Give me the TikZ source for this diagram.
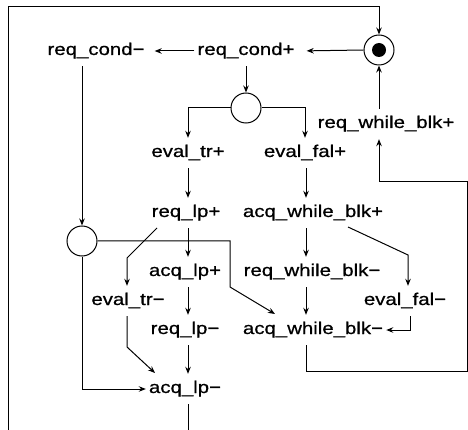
\documentclass[tikz,border=0pt]{standalone}
\usepackage{fontspec}
\setmainfont{Liberation Sans}[FakeStretch=1.2,FakeBold=0.8]
\usetikzlibrary{arrows.meta,calc}
\begin{document}
\begin{tikzpicture}[x=1pt,y=-1pt,
  lab/.style={font=\fontsize{17}{20}\selectfont, inner xsep=3pt, inner ysep=7pt,
              text height=12pt, text depth=4pt},
  place/.style={circle, draw, line width=1pt, minimum size=30pt, inner sep=0pt},
  arr/.style={-{Stealth[length=7pt,width=5.5pt]}, line width=1pt},
  ln/.style={line width=1pt}]
\useasboundingbox (0,0) rectangle (468,430);
% columns
\coordinate (colA) at (188,0);
\coordinate (colB) at (306,0);
% nodes
\node[lab] (reqcm) at (96,51) {req\_cond−};
\node[lab] (reqcp) at (246,51) {req\_cond+};
\node[place] (tok) at (379,50) {};
\fill (tok.center) circle (7);
\node[place] (p1) at (246,108) {};
\node[lab] (reqwbp) at (386,124) {req\_while\_blk+};
\node[lab] (evaltrp) at (188,153) {eval\_tr+};
\node[lab] (evalfalp) at (305,153) {eval\_fal+};
\node[lab] (reqlpp) at (186,213) {req\_lp+};
\node[lab] (acqwbp) at (313,213) {acq\_while\_blk+};
\node[place] (p2) at (82,241) {};
\node[lab] (acqlpp) at (185,272) {acq\_lp+};
\node[lab] (reqwbm) at (312,272) {req\_while\_blk−};
\node[lab] (evaltrm) at (128,301) {eval\_tr−};
\node[lab] (evalfalm) at (405,301) {eval\_fal−};
\node[lab] (reqlpm) at (185,330) {req\_lp−};
\node[lab] (acqwbm) at (313,330) {acq\_while\_blk−};
\node[lab] (acqlpm) at (185,389) {acq\_lp−};
% helper coordinates
\coordinate (tl) at (8,7);
\coordinate (bl) at (8,430);
\coordinate (rb) at (467,371);
\coordinate (rt) at (467,182);
\coordinate (k1) at (230,287);
\coordinate (k2) at (408,255);
\coordinate (k3) at (127,258);
\coordinate (k4) at (127,347);
% connectors
\draw[arr, shorten >=9pt] (tok.west) -- (reqcp.east);
\draw[arr, shorten >=7pt] (reqcp.west) -- (reqcm.east);
\draw[arr] (reqcp.south) -- (p1.north);
\draw[arr] (p1.west) -| (evaltrp.north);
\draw[arr] (p1.east) -| (evalfalp.north);
\draw[arr] (reqwbp.north -| tok) -- (tok.south);
\draw[arr] (acqwbm.south -| colB) |- (rb) -- (rt) -| (reqwbp.south -| tok);
\draw[arr] (bl) -- (tl) -| (tok.north);
\draw[ln] (acqlpm.south -| colA) -- (bl -| colA);
\draw[arr] (reqcm.south -| p2) -- (p2.north);
\draw[arr] (p2.east) -| (k1) -- (275,314);
\draw[arr] (p2.south) |- (acqlpm.west);
\draw[arr] (157,228) -- (k3) -- (evaltrm.north -| k3);
\draw[arr] (evaltrp.south -| colA) -- (reqlpp.north -| colA);
\draw[arr] (reqlpp.south -| colA) -- (acqlpp.north -| colA);
\draw[arr] (acqlpp.south -| colA) -- (reqlpm.north -| colA);
\draw[arr] (reqlpm.south -| colA) -- (acqlpm.north -| colA);
\draw[arr] (evaltrm.south -| k4) -- (k4) -- (155,373);
\draw[arr] (evalfalp.south -| colB) -- (acqwbp.north -| colB);
\draw[arr] (acqwbp.south -| colB) -- (reqwbm.north -| colB);
\draw[arr] (reqwbm.south -| colB) -- (acqwbm.north -| colB);
\draw[arr] (348,227) -- (k2) -- (evalfalm.north -| k2);
\draw[arr] (evalfalm.south -| 410,0) |- (acqwbm.east);
\end{tikzpicture}
\end{document}
